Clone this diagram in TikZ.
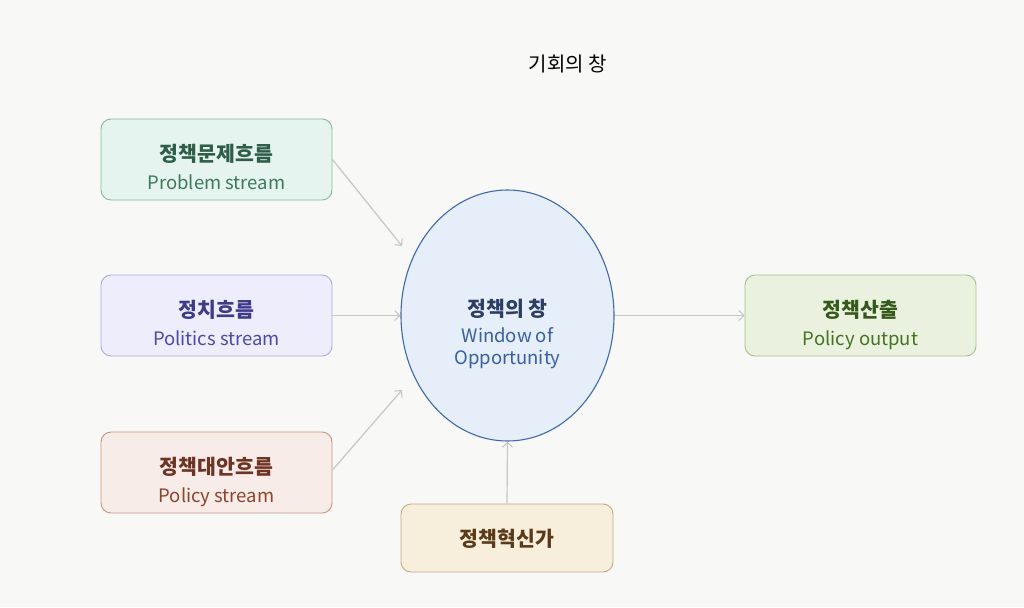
\documentclass[tikz,border=0pt]{standalone}
\usepackage{fontspec}
\setmainfont{Noto Sans CJK KR}
\usetikzlibrary{arrows.meta,shapes.geometric}
\definecolor{bg}{HTML}{F8F8F7}
\definecolor{arr}{HTML}{C6C6C6}
\definecolor{pfill}{HTML}{E5F4EE}\definecolor{pdraw}{HTML}{86B9A0}\definecolor{ptxt}{HTML}{2D5E48}\definecolor{ptxt2}{HTML}{3A7A5B}
\definecolor{lfill}{HTML}{EEEDFB}\definecolor{ldraw}{HTML}{ADA8E3}\definecolor{ltxt}{HTML}{3F3B8C}\definecolor{ltxt2}{HTML}{4E47B0}
\definecolor{sfill}{HTML}{F8ECE8}\definecolor{sdraw}{HTML}{C9937E}\definecolor{stxt}{HTML}{6E3322}\definecolor{stxt2}{HTML}{914329}
\definecolor{efill}{HTML}{F8EEDC}\definecolor{edraw}{HTML}{C9A77D}\definecolor{etxt}{HTML}{5A3A19}
\definecolor{ofill}{HTML}{EAF2DF}\definecolor{odraw}{HTML}{A2C286}\definecolor{otxt}{HTML}{345A1A}\definecolor{otxt2}{HTML}{44721F}
\definecolor{wfill}{HTML}{E6EEF9}\definecolor{wdraw}{HTML}{3D69B0}\definecolor{wtxt}{HTML}{2C3E63}\definecolor{wtxt2}{HTML}{3460A6}
\begin{document}
\begin{tikzpicture}[x=1pt,y=-1pt,
  box/.style={rectangle,rounded corners=10pt,line width=0.9pt,minimum width=231pt,minimum height=81pt,inner sep=0pt},
  ko/.style={anchor=base,inner sep=0pt,font=\fontsize{20.5}{24}\selectfont\bfseries},
  en/.style={anchor=base,inner sep=0pt,font=\fontsize{18.5}{22}\selectfont},
  conn/.style={draw=arr,line width=1.2pt,-{Straight Barb[length=5pt,width=10pt,line width=1.1pt]}},
]
\fill[bg] (0,0) rectangle (1024,607);
\useasboundingbox (0,0) rectangle (1024,607);
\node[anchor=base,inner sep=0pt,font=\fontsize{20}{24}\selectfont] (title) at (568,72) {기회의 창};
% boxes
\node[box,fill=pfill,draw=pdraw] (prob) at (216.5,159.5) {};
\node[ko,text=ptxt] (probk) at ([yshift=-2pt]prob.center) {정책문제흐름};
\node[en,text=ptxt2] (probe) at ([yshift=-29.5pt]prob.center) {Problem stream};
\node[box,fill=lfill,draw=ldraw] (poli) at (216.5,315.5) {};
\node[ko,text=ltxt] (polik) at ([yshift=-2pt]poli.center) {정치흐름};
\node[en,text=ltxt2] (polie) at ([yshift=-29.5pt]poli.center) {Politics stream};
\node[box,fill=sfill,draw=sdraw] (pols) at (216.5,472.5) {};
\node[ko,text=stxt] (polsk) at ([yshift=-2pt]pols.center) {정책대안흐름};
\node[en,text=stxt2] (polse) at ([yshift=-29.5pt]pols.center) {Policy stream};
\node[box,fill=efill,draw=edraw,minimum width=212pt,minimum height=68pt] (ent) at (507,538) {};
\node[ko,text=etxt] (entk) at ([yshift=-8.5pt]ent.center) {정책혁신가};
\node[box,fill=ofill,draw=odraw] (out) at (860.5,315.5) {};
\node[ko,text=otxt] (outk) at ([yshift=-2pt]out.center) {정책산출};
\node[en,text=otxt2] (oute) at ([yshift=-29.5pt]out.center) {Policy output};
% ellipse
\node[ellipse,fill=wfill,draw=wdraw,line width=1.1pt,minimum width=213pt,minimum height=251pt,inner sep=0pt] (win) at (507.5,315.5) {};
\node[ko,text=wtxt] (wink) at ([yshift=-0.5pt]win.center) {정책의 창};
\node[en,text=wtxt2] (wine1) at ([yshift=-26.5pt]win.center) {Window of};
\node[en,text=wtxt2] (wine2) at ([yshift=-48.5pt]win.center) {Opportunity};
% connectors
\coordinate (e1) at (402,246);
\coordinate (e3) at (402,390);
\draw[conn] (prob.east) -- (e1);
\draw[conn] (poli.east) -- (win.west);
\draw[conn] (pols.east |- 0,470) -- (e3);
\draw[conn] (ent.north) -- (win.south);
\draw[conn] (win.east) -- (out.west);
\end{tikzpicture}
\end{document}
